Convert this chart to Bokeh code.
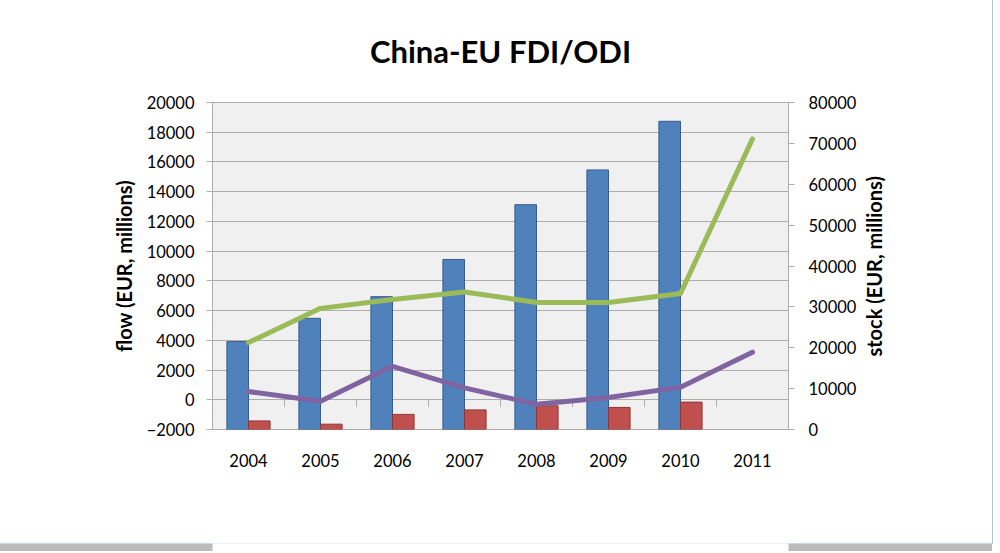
import math
from bokeh.plotting import figure
from bokeh.layouts import column
from bokeh.models import (ColumnDataSource, Range1d, LinearAxis, SingleIntervalTicker,
                          Legend, LegendItem, Title, FactorRange)
from bokeh.transform import dodge
from bokeh.embed import file_html
from bokeh.resources import INLINE

NAN = float("nan")

# ---- data ----
years = ["2004", "2005", "2006", "2007", "2008", "2009", "2010", "2011"]
eu_to_china_stock = [21500, 27200, 32500, 41600, 55000, 63500, 75400, NAN]
china_to_eu_stock = [2100, 1300, 3700, 4800, 5800, 5400, 6700, NAN]
eu_to_china_flow = [3850, 6150, 6750, 7250, 6550, 6550, 7150, 17550]
china_to_eu_flow = [550, -100, 2250, 800, -300, 150, 850, 3200]

title_text = "China-EU FDI/ODI"
flow_label = "flow (EUR, millions)"
stock_label = "stock (EUR, millions)"
series_names = ["EU to China stock", "China to EU stock", "EU to China flow", "China to EU flow"]

FONT = "Lato"
GRID = "#ADADAD"
NBSP = "\u00a0"
BLUE, BLUE_EDGE = "#4F81BD", "#385D8A"
RED, RED_EDGE = "#C0504D", "#8C3836"
GREEN, PURPLE = "#9BBB59", "#8064A2"

source = ColumnDataSource(dict(
    year=years,
    eu_stock=eu_to_china_stock,
    cn_stock=china_to_eu_stock,
    eu_flow=eu_to_china_flow,
    cn_flow=china_to_eu_flow,
))


def draw_series(fig, stock_range_name):
    r1 = fig.vbar(x=dodge("year", -0.15, range=fig.x_range), top="eu_stock", bottom=0,
                  width=0.3, source=source, y_range_name=stock_range_name,
                  fill_color=BLUE, line_color=BLUE_EDGE, line_width=1)
    r2 = fig.vbar(x=dodge("year", 0.15, range=fig.x_range), top="cn_stock", bottom=0,
                  width=0.3, source=source, y_range_name=stock_range_name,
                  fill_color=RED, line_color=RED_EDGE, line_width=1)
    r3 = fig.line(x="year", y="eu_flow", source=source, line_color=GREEN,
                  line_width=5, line_cap="round", line_join="round")
    r4 = fig.line(x="year", y="cn_flow", source=source, line_color=PURPLE,
                  line_width=5, line_cap="round", line_join="round")
    return r1, r2, r3, r4


# ---------------- main chart ----------------
p = figure(
    width=992, height=479,
    x_range=FactorRange(*years),
    y_range=Range1d(-2000, 20000),
    output_backend="svg", toolbar_location=None,
    min_border_left=212, min_border_right=204,
    min_border_top=101, min_border_bottom=50,
    background_fill_color="#F0F0F0",
    border_fill_color="white",
    outline_line_color=GRID,
)
p.extra_y_ranges = {"stock": Range1d(0, 80000)}

p.title = Title(text=title_text, align="center", vertical_align="top", text_font=FONT,
                text_font_size="31px", text_font_style="bold",
                text_color="#000000", standoff=62)

# category tick marks on the zero line (category axis crosses at 0)
tick_len = 480
p.segment(x0=dodge("year", -0.5, range=p.x_range), y0=0,
          x1=dodge("year", -0.5, range=p.x_range), y1=-tick_len,
          source=ColumnDataSource(dict(year=years[1:])), line_color=GRID, line_width=1)

draw_series(p, "stock")

p.xgrid.grid_line_color = None
p.ygrid.grid_line_color = GRID
p.ygrid.grid_line_width = 1
p.yaxis.ticker = SingleIntervalTicker(interval=2000)

left = p.yaxis[0]
left.axis_label = flow_label
left.axis_label_text_font = FONT
left.axis_label_text_font_size = "20px"
left.axis_label_text_font_style = "bold"
left.axis_label_text_color = "#000000"
left.axis_label_standoff = 8
left.major_label_text_font = FONT
left.major_label_text_font_size = "16.5px"
left.major_label_text_color = "#000000"
left.major_label_standoff = 12
left.axis_line_color = GRID
left.major_tick_line_color = GRID
left.major_tick_out = 6
left.major_tick_in = 0
left.minor_tick_line_color = None

right = LinearAxis(y_range_name="stock", ticker=SingleIntervalTicker(interval=10000))
# reads bottom-to-top like the reference; anchored at the axis start, padded to sit centred
right.axis_label = NBSP * 15 + stock_label
right.axis_label_orientation = math.pi / 2
right.axis_label_align = "start"
right.axis_label_text_font = FONT
right.axis_label_text_font_size = "20px"
right.axis_label_text_font_style = "bold"
right.axis_label_text_color = "#000000"
right.axis_label_standoff = 15
right.major_label_text_font = FONT
right.major_label_text_font_size = "16.5px"
right.major_label_text_color = "#000000"
right.major_label_standoff = 14
right.axis_line_color = GRID
right.major_tick_line_color = GRID
right.major_tick_out = 6
right.major_tick_in = 0
right.minor_tick_line_color = None
p.add_layout(right, "right")

xax = p.xaxis[0]
xax.axis_line_color = None
xax.major_tick_line_color = None
xax.major_label_text_font = FONT
xax.major_label_text_font_size = "16.5px"
xax.major_label_text_color = "#000000"
xax.major_label_standoff = 18

# ---------------- legend strip ----------------
# same series, drawn into a strip whose y-range lies far above the data, so only the legend shows
lg = figure(
    width=992, height=64,
    x_range=FactorRange(*years),
    y_range=Range1d(1e7, 1e7 + 1),
    output_backend="svg", toolbar_location=None,
    x_axis_location=None, y_axis_location=None,
    min_border=0, outline_line_color=None,
    background_fill_color="white", border_fill_color="white",
)
lg.extra_y_ranges = {"stock": Range1d(1e9, 1e9 + 1)}
lg.grid.visible = False
lr = draw_series(lg, "stock")

legend = Legend(
    items=[LegendItem(label=name, renderers=[r]) for name, r in zip(series_names, lr)],
    orientation="horizontal", location="center",
    glyph_width=40, glyph_height=12, label_height=20, spacing=6, label_standoff=3,
    label_text_font=FONT, label_text_font_size="18px", label_text_color="#000000",
    border_line_color=None, background_fill_alpha=0, padding=4, margin=9,
)
lg.add_layout(legend, "above")

layout = column(p, lg, spacing=0)
layout.styles = {"outline": "1px solid #B8C8E2", "box-shadow": "0 8px 0 0 #BBBBBB"}

open("out.html", "w").write(file_html(layout, INLINE))
